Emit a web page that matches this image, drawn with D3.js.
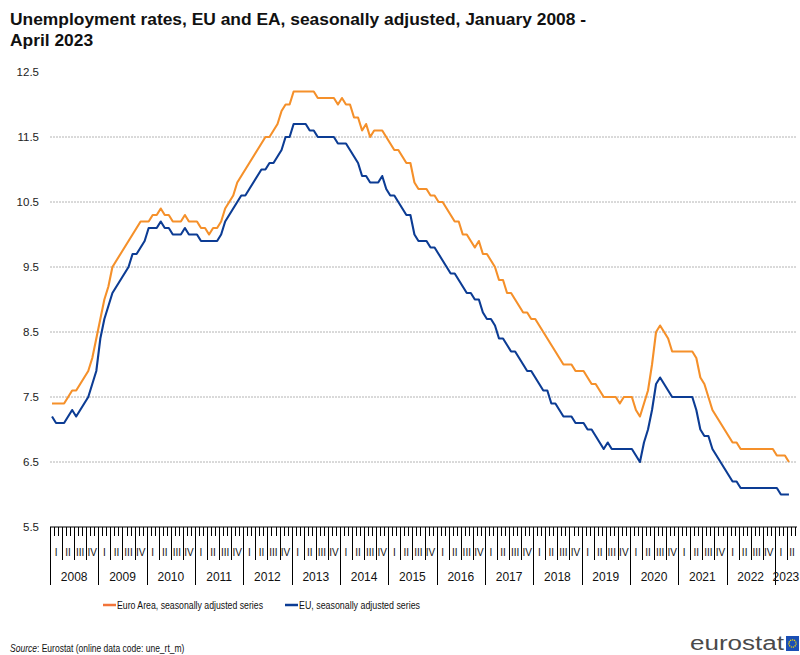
<!DOCTYPE html>
<html><head><meta charset="utf-8">
<script src="https://cdn.jsdelivr.net/npm/d3@7/dist/d3.min.js"></script>
<style>
body{margin:0;background:#fff;}
svg{display:block;}
.nar{font-family:"Liberation Sans Narrow","Arial Narrow","Liberation Sans",Arial,sans-serif;}
</style></head><body>
<svg id="c" width="800" height="655"></svg>
<script>
const titleLines = ["Unemployment rates, EU and EA, seasonally adjusted, January 2008 -", "April 2023"];
const years = [2008,2009,2010,2011,2012,2013,2014,2015,2016,2017,2018,2019,2020,2021,2022,2023];
const quarterLabels = ["I","II","III","IV"];
const yTicks = [5.5,6.5,7.5,8.5,9.5,10.5,11.5,12.5];
const seriesNames = ["Euro Area, seasonally adjusted series","EU, seasonally adjusted series"];
const sourceText = "Eurostat (online data code: une_rt_m)";

// Euro Area, monthly Jan 2008 - Apr 2023
const euroArea = [
 7.4,7.4,7.4,7.4,7.5,7.6,7.6,7.7,7.8,7.9,8.1,8.4,
 8.7,9.0,9.2,9.5,9.6,9.7,9.8,9.9,10.0,10.1,10.2,10.2,
 10.2,10.3,10.3,10.4,10.3,10.3,10.2,10.2,10.2,10.3,10.2,10.2,
 10.2,10.1,10.1,10.0,10.1,10.1,10.2,10.4,10.5,10.6,10.8,10.9,
 11.0,11.1,11.2,11.3,11.4,11.5,11.5,11.6,11.7,11.9,12.0,12.0,
 12.2,12.2,12.2,12.2,12.2,12.2,12.1,12.1,12.1,12.1,12.1,12.0,
 12.1,12.0,12.0,11.8,11.8,11.6,11.7,11.5,11.6,11.6,11.6,11.5,
 11.4,11.3,11.3,11.2,11.1,11.1,10.8,10.7,10.7,10.7,10.6,10.6,
 10.5,10.5,10.4,10.3,10.2,10.2,10.0,10.0,9.9,9.8,9.9,9.7,
 9.7,9.6,9.5,9.3,9.3,9.1,9.1,9.0,8.9,8.8,8.8,8.7,
 8.7,8.6,8.5,8.4,8.3,8.2,8.1,8.0,8.0,8.0,7.9,7.9,
 7.9,7.8,7.7,7.7,7.6,7.5,7.5,7.5,7.5,7.4,7.5,7.5,
 7.5,7.3,7.2,7.4,7.6,8.0,8.5,8.6,8.5,8.4,8.2,8.2,
 8.2,8.2,8.2,8.2,8.1,7.8,7.7,7.5,7.3,7.2,7.1,7.0,
 6.9,6.8,6.8,6.7,6.7,6.7,6.7,6.7,6.7,6.7,6.7,6.7,
 6.6,6.6,6.6,6.5
];
// EU, monthly Jan 2008 - Apr 2023
const eu = [
 7.2,7.1,7.1,7.1,7.2,7.3,7.2,7.3,7.4,7.5,7.7,7.9,
 8.4,8.7,8.9,9.1,9.2,9.3,9.4,9.5,9.7,9.7,9.8,9.9,
 10.1,10.1,10.1,10.2,10.1,10.1,10.0,10.0,10.0,10.1,10.0,10.0,
 10.0,9.9,9.9,9.9,9.9,9.9,10.0,10.2,10.3,10.4,10.5,10.6,
 10.6,10.7,10.8,10.9,11.0,11.0,11.1,11.1,11.2,11.3,11.5,11.5,
 11.7,11.7,11.7,11.7,11.6,11.6,11.5,11.5,11.5,11.5,11.5,11.4,
 11.4,11.4,11.3,11.2,11.1,10.9,10.9,10.8,10.8,10.8,10.9,10.7,
 10.6,10.6,10.5,10.4,10.3,10.3,10.0,9.9,9.9,9.9,9.8,9.8,
 9.7,9.6,9.5,9.4,9.4,9.3,9.2,9.1,9.1,9.0,9.0,8.8,
 8.7,8.7,8.6,8.4,8.4,8.3,8.2,8.2,8.1,8.0,7.9,7.9,
 7.8,7.7,7.6,7.6,7.4,7.4,7.3,7.2,7.2,7.2,7.1,7.1,
 7.1,7.0,7.0,6.9,6.8,6.7,6.8,6.7,6.7,6.7,6.7,6.7,
 6.7,6.6,6.5,6.8,7.0,7.3,7.7,7.8,7.7,7.6,7.5,7.5,
 7.5,7.5,7.5,7.5,7.3,7.0,6.9,6.9,6.7,6.6,6.5,6.4,
 6.3,6.2,6.2,6.1,6.1,6.1,6.1,6.1,6.1,6.1,6.1,6.1,
 6.1,6.0,6.0,6.0
];

const colEA = "#F5902A", colEU = "#0C3C94";
const svg = d3.select("#c");
const L = 50, R = 797, T = 72, B = 527;
const axisMonths = 185.5;
const x = d3.scaleLinear().domain([0, axisMonths]).range([L, R]);
const y = d3.scaleLinear().domain([5.5, 12.5]).range([B, T]);

// title
svg.append("g").selectAll("text").data(titleLines).join("text")
  .attr("x", 10).attr("y", (d,i)=>25 + i*21)
  .attr("font-family", "'Liberation Sans',Arial,sans-serif")
  .attr("font-weight", "bold").attr("font-size", 17.4).attr("fill", "#111")
  .text(d=>d);

// gridlines
svg.append("g").selectAll("line").data(yTicks.filter(v=>v>5.5 && v<12.5)).join("line")
  .attr("x1", L).attr("x2", R).attr("y1", d=>y(d)).attr("y2", d=>y(d))
  .attr("stroke", "#b4b4b4").attr("stroke-width", 1).attr("stroke-dasharray", "2,1");

// y labels
svg.append("g").selectAll("text").data(yTicks).join("text")
  .attr("class","nar")
  .attr("x", 39).attr("y", d=>y(d)).attr("dy", "0.35em").attr("text-anchor", "end")
  .attr("font-size", 11.5).attr("fill", "#222")
  .text(d=>d.toFixed(1));

// x axis
const ax = svg.append("g");
ax.append("line").attr("x1", L).attr("x2", R).attr("y1", B).attr("y2", B)
  .attr("stroke", "#000").attr("stroke-width", 1.2);
const tickMonths = d3.range(0, Math.floor(axisMonths) + 1);
ax.selectAll("line.t").data(tickMonths).join("line").attr("class","t")
  .attr("x1", d=>Math.round(x(d))+0.5).attr("x2", d=>Math.round(x(d))+0.5)
  .attr("y1", B).attr("y2", d=> d%12===0 ? 585 : (d%3===0 ? 560 : 536))
  .attr("stroke", "#000").attr("stroke-width", 1);
// quarter labels
const quarters = [];
years.forEach((yr, yi) => {
  quarterLabels.forEach((q, qi) => {
    const s = yi*12 + qi*3;
    if (s < axisMonths) quarters.push({q, s, e: Math.min(s+3, axisMonths)});
  });
});
ax.selectAll("text.q").data(quarters).join("text").attr("class","q nar")
  .attr("x", d=>x((d.s+d.e)/2)).attr("y", 552).attr("dy","0.35em")
  .attr("text-anchor","middle").attr("font-size", 10).attr("fill","#111")
  .text(d=>d.q);
// year labels
ax.selectAll("text.yr").data(years).join("text").attr("class","yr nar")
  .attr("x", (d,i)=>x((i*12 + Math.min(i*12+12, axisMonths))/2)).attr("y", 577).attr("dy","0.35em")
  .attr("text-anchor","middle").attr("font-size", 12).attr("fill","#111")
  .text(d=>d);

// lines
const line = d3.line().x((d,i)=>x(i+0.5)).y(d=>y(d));
svg.append("path").datum(euroArea).attr("d", line)
  .attr("fill","none").attr("stroke", colEA).attr("stroke-width", 2.1).attr("stroke-linejoin","round");
svg.append("path").datum(eu).attr("d", line)
  .attr("fill","none").attr("stroke", colEU).attr("stroke-width", 2.1).attr("stroke-linejoin","round");

// legend
const leg = [{n: seriesNames[0], c: "#F2743A", x: 103, w: 146}, {n: seriesNames[1], c: colEU, x: 285, w: 121}];
const lg = svg.append("g").selectAll("g").data(leg).join("g");
lg.append("line").attr("x1", d=>d.x).attr("x2", d=>d.x+13).attr("y1", 605).attr("y2", 605)
  .attr("stroke", d=>d.c).attr("stroke-width", 2.5);
lg.append("text").attr("class","nar").attr("x", d=>d.x+14).attr("y", 605).attr("dy","0.35em")
  .attr("font-size", 11.5).attr("fill","#111")
  .attr("textLength", d=>d.w).attr("lengthAdjust","spacingAndGlyphs").text(d=>d.n);

// source (condensed via horizontal scale)
const src = svg.append("g").attr("transform", "translate(10,652) scale(0.74,1)")
  .append("text").attr("class","nar").attr("x", 0).attr("y", 0)
  .attr("font-size", 11.5).attr("fill","#111");
src.append("tspan").attr("font-style","italic").text("Source");
src.append("tspan").text(": " + sourceText);

// logo
svg.append("text").attr("x", 690).attr("y", 650)
  .attr("font-family","'Liberation Sans',Arial,sans-serif").attr("font-size", 20)
  .attr("textLength", 94).attr("lengthAdjust","spacingAndGlyphs")
  .attr("fill","#4a4a4a").text("eurostat");
svg.append("rect").attr("x", 786).attr("y", 636).attr("width", 13).attr("height", 15).attr("fill", "#1a4fb5");
svg.append("circle").attr("cx", 792.5).attr("cy", 643.5).attr("r", 3.6).attr("fill","none")
  .attr("stroke", "#f4d600").attr("stroke-width", 1.3).attr("stroke-dasharray","1.2,0.8");
</script>
</body></html>
